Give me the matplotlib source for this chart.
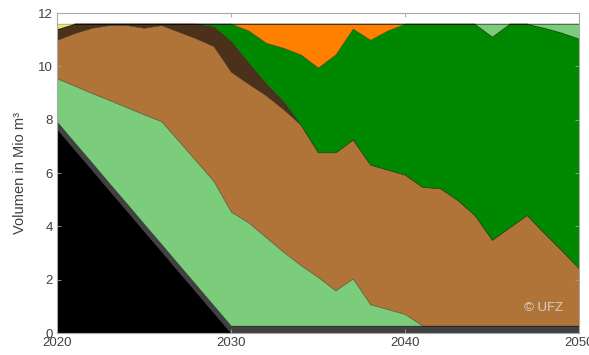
import matplotlib
matplotlib.use("Agg")
import matplotlib.pyplot as plt
import numpy as np

plt.rcParams["font.family"] = ["Liberation Sans", "DejaVu Sans"]

years = np.arange(2020, 2051)

# layer thicknesses in Mio m3, bottom to top
black = [7.65, 6.88, 6.12, 5.35, 4.59, 3.82, 3.06, 2.29, 1.53, 0.76, 0.0] + [0.0] * 20
gray = [0.28] * 31
light_green = [1.62, 2.12, 2.60, 3.11, 3.60, 4.10, 4.60, 4.63, 4.64, 4.66, 4.27,
               3.87, 3.32, 2.77, 2.27, 1.82, 1.32, 1.77, 0.80, 0.62, 0.43] + [0.0] * 10
brown = [1.45, 1.97, 2.45, 2.81, 3.08, 3.25, 3.61, 4.10, 4.60, 5.06, 5.25,
         5.20, 5.32, 5.35, 5.27, 4.68, 5.18, 5.21, 5.24, 5.23, 5.23,
         5.20, 5.16, 4.72, 4.15, 3.22, 3.69, 4.15, 3.47, 2.82, 2.15]
dark_brown = [0.40, 0.35, 0.15, 0.05, 0.05, 0.15, 0.05, 0.30, 0.55, 0.74, 1.15,
              0.80, 0.45, 0.30] + [0.0] * 17
green = [0.0] * 9 + [0.10, 0.65, 1.20, 1.52, 2.00, 2.63, 3.18, 3.67, 4.16, 4.68, 5.22, 5.66,
                     6.12, 6.16, 6.60, 7.17, 7.62, 7.63, 7.17, 7.70, 8.17, 8.61]
orange = [0.0] * 11 + [0.25, 0.71, 0.90, 1.15, 1.64, 1.15, 0.18, 0.60, 0.25] + [0.0] * 11
light_green_top = [0.0] * 25 + [0.48, 0.0, 0.0, 0.15, 0.33, 0.56]
yellow = [0.20] + [0.0] * 30

layers = [black, gray, light_green, brown, dark_brown, green, orange, light_green_top, yellow]
colors = ["#000000", "#414141", "#7bcd7b", "#b07439", "#4b3119", "#008800",
          "#ff8000", "#7bcd7b", "#e6e66e"]

fig = plt.figure(figsize=(5.89, 3.55), dpi=100)
ax = fig.add_axes([57 / 589, 22 / 355, 522 / 589, 320 / 355])

ax.stackplot(years, layers, colors=colors, edgecolor=(0, 0, 0, 0.35), linewidth=0.5)

ax.set_xlim(2020, 2050)
ax.set_ylim(0, 12)
ax.set_xticks([2020, 2030, 2040, 2050])
ax.set_yticks(np.arange(0, 13, 2))
ax.tick_params(direction="in", length=3, width=0.6, colors="#a0a0a0",
               labelcolor="#404040", labelsize=9.5, top=True, right=True, pad=3)
for s in ax.spines.values():
    s.set_color("#a8a8a8")
    s.set_linewidth(0.8)
ax.set_ylabel("Volumen in Mio m³", color="#404040", fontsize=10.5, labelpad=8)

ax.text(0.933, 0.078, "© UFZ", transform=ax.transAxes, ha="center", va="center",
        color="#d8d8d8", fontsize=9.5, alpha=0.9)

fig.savefig("out.png", dpi=100)
